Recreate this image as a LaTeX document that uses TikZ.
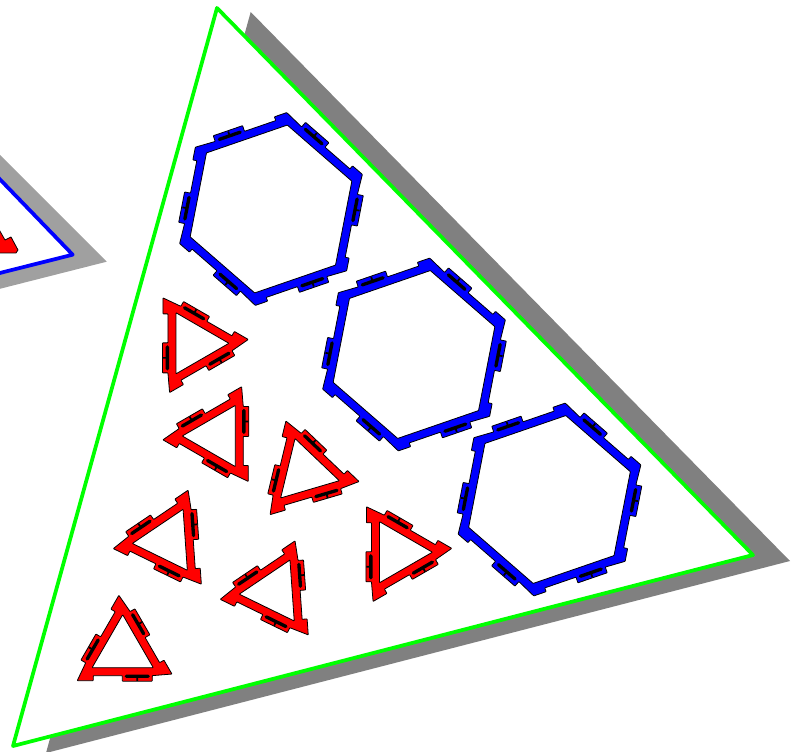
\documentclass[tikz,border=0pt]{standalone}
\definecolor{shadowA}{RGB}{128,128,128}
\definecolor{shadowB}{RGB}{160,160,160}
\definecolor{pureG}{RGB}{0,255,0}
\definecolor{pureB}{RGB}{0,0,255}
\definecolor{pureR}{RGB}{255,0,0}
\tikzset{
  piecefill/.style={draw=black,line width=0.6pt,fill=#1,even odd rule,line join=round},
  slotline/.style={draw=black,line width=2.5pt,line cap=round},
  sheetline/.style={line width=2.8pt,line join=round},
}
% #1 cx, #2 cy, #3 R, #4 rot, #5 n, #6 colour, #7 outline per side (u/v), #8 slot centre
\newcommand{\puzzlepiece}[8]{%
  \pgfmathsetmacro{\nsides}{int(#5-1)}%
  \gdef\outerpath{}\gdef\innerpath{}\gdef\barpath{}\gdef\stempath{}\gdef\sepO{}\gdef\sepI{}%
  \foreach \k in {0,...,\nsides}{%
    \pgfmathsetmacro{\aa}{-90+#4+\k*360/#5}%
    \pgfmathsetmacro{\hh}{\aa+90+180/#5}%
    \pgfmathsetmacro{\ax}{#1+#3*cos(\aa)}%
    \pgfmathsetmacro{\ay}{#2+#3*sin(\aa)}%
    \xdef\innerpath{\innerpath\sepI(\ax,\ay)}\gdef\sepI{--}%
    \foreach \u/\v in {#7}{%
      \pgfmathsetmacro{\px}{\ax+\u*cos(\hh)+\v*cos(\hh-90)}%
      \pgfmathsetmacro{\py}{\ay+\u*sin(\hh)+\v*sin(\hh-90)}%
      \xdef\outerpath{\outerpath\sepO(\px,\py)}\gdef\sepO{--}%
    }%
    \pgfmathsetmacro{\bax}{\ax+(#8-11)*cos(\hh)+8.6*cos(\hh-90)}%
    \pgfmathsetmacro{\bay}{\ay+(#8-11)*sin(\hh)+8.6*sin(\hh-90)}%
    \pgfmathsetmacro{\bbx}{\ax+(#8+11)*cos(\hh)+8.6*cos(\hh-90)}%
    \pgfmathsetmacro{\bby}{\ay+(#8+11)*sin(\hh)+8.6*sin(\hh-90)}%
    \pgfmathsetmacro{\smx}{\ax+(#8)*cos(\hh)+8.6*cos(\hh-90)}%
    \pgfmathsetmacro{\smy}{\ay+(#8)*sin(\hh)+8.6*sin(\hh-90)}%
    \pgfmathsetmacro{\stx}{\ax+(#8)*cos(\hh)+13.2*cos(\hh-90)}%
    \pgfmathsetmacro{\sty}{\ay+(#8)*sin(\hh)+13.2*sin(\hh-90)}%
    \xdef\barpath{\barpath (\bax,\bay)--(\bbx,\bby)}%
    \xdef\stempath{\stempath (\smx,\smy)--(\stx,\sty)}%
  }%
  \path[piecefill=#6] [rounded corners=0.4pt] \outerpath -- cycle  \innerpath -- cycle;
  \path[slotline] \barpath;
  \path[draw=black,line width=1.3pt] \stempath;
}
\newcommand{\hexpiece}[2]{\puzzlepiece{#1}{#2}{85.5}{11}{6}{pureB}{12/8,12/14,43/14,43/8,76/8,76/12,89/12}{27.5}}
\newcommand{\tripiece}[3]{\puzzlepiece{#1}{#2}{35.3}{#3}{3}{pureR}{1/8,1/13.5,31/13.5,31/8,60/8,60/13,76/13}{16}}
\begin{document}
\begin{tikzpicture}[x=0.75pt,y=-0.75pt]
\useasboundingbox (0,0) rectangle (800,752);
\clip (0,0) rectangle (800,752);
% neighbouring sheet, left
\fill[shadowB] (-60,95) -- (106.7,261.7) -- (-60,304) -- cycle;
\draw[pureB,fill=white,sheetline] (-40,138) -- (72.7,254.7) -- (-40,283) -- cycle;
\draw[black,line width=0.6pt,fill=pureR,line join=round] (-3,226) -- (5,240) -- (11,237) -- (18,250) -- (16,253) -- (-3,253) -- cycle;
% main sheet
\fill[shadowA] (250.7,12) -- (790,561) -- (46,753) -- cycle;
\draw[pureG,fill=white,sheetline] (217,8) -- (753,555) -- (13,746) -- cycle;
% hexagons
\hexpiece{271}{209}
\hexpiece{414}{354.5}
\hexpiece{549.5}{499.5}
% triangles
\tripiece{122.7}{650}{0}
\tripiece{193.6}{343.3}{90}
\tripiece{217.6}{436}{30}
\tripiece{305}{472.4}{-16.4}
\tripiece{167.6}{541}{26}
\tripiece{274.5}{591.7}{26}
\tripiece{397.1}{552.2}{90}
\end{tikzpicture}
\end{document}
